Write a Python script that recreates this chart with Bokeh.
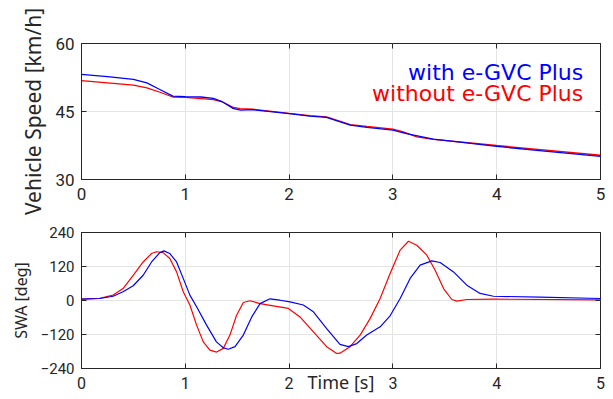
from bokeh.plotting import figure
from bokeh.layouts import column
from bokeh.models import LinearAxis, Label, FixedTicker, CustomJSTickFormatter
from bokeh.embed import file_html
from bokeh.resources import INLINE

# ---- data ----
t_spd_with = [0, 0.25, 0.5, 0.63, 0.75, 0.88, 1.0, 1.15, 1.27, 1.36, 1.46, 1.53, 1.65, 2.0, 2.2,
              2.36, 2.59, 2.75, 3.0, 3.13, 3.39, 3.71, 4.0, 4.36, 5.0]
spd_with = [53.2, 52.7, 52.1, 51.3, 49.9, 48.4, 48.3, 48.2, 47.9, 47.1, 45.7, 45.3, 45.4, 44.55, 44.0,
            43.7, 42.0, 41.5, 40.9, 40.1, 38.9, 38.1, 37.3, 36.5, 35.1]
t_spd_without = [0, 0.25, 0.5, 0.63, 0.75, 0.88, 1.0, 1.27, 1.36, 1.46, 1.53, 1.65, 2.0, 2.2,
                 2.36, 2.59, 2.75, 3.0, 3.1, 3.23, 3.39, 4.0, 5.0]
spd_without = [51.8, 51.3, 50.8, 50.2, 49.3, 48.2, 48.1, 47.6, 47.1, 45.9, 45.65, 45.5, 44.6, 44.1,
               43.8, 42.1, 41.7, 41.1, 40.5, 39.4, 38.85, 37.5, 35.35]

t_swa_with = [0, 0.176, 0.305, 0.40, 0.498, 0.594, 0.675, 0.755, 0.794, 0.85, 0.916, 0.98, 1.044,
              1.109, 1.205, 1.30, 1.366, 1.414, 1.479, 1.559, 1.64, 1.72, 1.816, 1.912, 2.009,
              2.137, 2.234, 2.362, 2.49, 2.571, 2.652, 2.748, 2.877, 2.973, 3.07, 3.166, 3.262,
              3.375, 3.455, 3.584, 3.712, 3.84, 3.969, 4.419, 5.0]
swa_with = [4.7, 7, 15, 31, 52, 89, 136, 169, 175, 166, 136, 78, 19,
            -22, -87, -146, -167, -172, -163, -122, -58, -11, 6, 1, -5,
            -16, -40, -99, -155, -163, -152, -122, -93, -54, 7, 78, 125,
            140, 134, 101, 54, 25, 15, 12, 7]
t_swa_without = [0, 0.176, 0.305, 0.40, 0.498, 0.594, 0.675, 0.723, 0.787, 0.851, 0.916, 0.98,
                 1.044, 1.109, 1.173, 1.237, 1.301, 1.366, 1.43, 1.494, 1.559, 1.623, 1.72, 1.848,
                 1.993, 2.105, 2.234, 2.362, 2.459, 2.49, 2.587, 2.684, 2.78, 2.877, 2.973, 3.07,
                 3.15, 3.23, 3.327, 3.407, 3.488, 3.568, 3.616, 3.712, 3.969, 5.0]
swa_without = [4.7, 8, 19, 42, 89, 136, 166, 172, 169, 148, 101, 31,
               -16, -87, -146, -175, -182, -169, -122, -52, -7, -1, -11, -19,
               -28, -58, -111, -163, -187, -186, -163, -122, -64, 7, 95, 178,
               209, 195, 160, 107, 42, 3.5, -2, 3.5, 4.7, 2.4]

x_ticks = [0, 1, 2, 3, 4, 5]
spd_ticks = [30, 45, 60]
swa_ticks = [-240, -120, 0, 120, 240]
legend_labels = ["with e-GVC Plus", "without e-GVC Plus"]
axis_labels = ["Vehicle Speed [km/h]", "SWA [deg]", "Time [s]"]

BLUE = "#0000ff"
RED = "#ff0000"
INK = "#262626"
GRID = "#e4e4e4"
TICK_FONT = "Roboto"
blank = CustomJSTickFormatter(code="return ''")


def style(p, yticks, xtick_size, ytick_size, overrides=None):
    p.outline_line_color = INK
    p.outline_line_width = 1
    p.xgrid.ticker = FixedTicker(ticks=x_ticks)
    p.ygrid.ticker = FixedTicker(ticks=yticks)
    p.xgrid.grid_line_color = GRID
    p.ygrid.grid_line_color = GRID
    xa = p.below[0]
    ya = p.left[0]
    for ax, size in ((xa, xtick_size), (ya, ytick_size)):
        ax.major_tick_in = 5
        ax.major_tick_out = 0
        ax.minor_tick_line_color = None
        ax.axis_line_color = INK
        ax.major_tick_line_color = INK
        ax.major_label_text_color = INK
        ax.major_label_text_font = TICK_FONT
        ax.major_label_text_font_size = size
    xa.ticker = FixedTicker(ticks=x_ticks)
    ya.ticker = FixedTicker(ticks=yticks)
    if overrides:
        ya.major_label_overrides = overrides
    xa.major_label_standoff = 8
    ya.major_label_standoff = 7
    # mirrored ticks on top and right (no labels)
    top = LinearAxis(ticker=FixedTicker(ticks=x_ticks), formatter=blank, major_tick_in=5,
                     major_tick_out=0, minor_tick_line_color=None, axis_line_color=None,
                     major_tick_line_color=INK, major_label_standoff=0)
    right = LinearAxis(ticker=FixedTicker(ticks=yticks), formatter=blank, major_tick_in=5,
                       major_tick_out=0, minor_tick_line_color=None, axis_line_color=None,
                       major_tick_line_color=INK, major_label_standoff=0)
    p.add_layout(top, "above")
    p.add_layout(right, "right")
    return xa, ya


p1 = figure(width=613, height=216, x_range=(0, 5), y_range=(30, 60),
            output_backend="svg", toolbar_location=None,
            min_border_left=81, min_border_right=13, min_border_top=43, min_border_bottom=37)
xa1, ya1 = style(p1, spd_ticks, "17px", "17px")
ya1.axis_label = axis_labels[0]
ya1.axis_label_text_font = "Noto Sans"
ya1.axis_label_text_font_size = "21px"
ya1.axis_label_text_font_style = "normal"
ya1.axis_label_text_color = INK
ya1.axis_label_standoff = 5
p1.line(t_spd_without, spd_without, line_color=RED, line_width=1.3)
p1.line(t_spd_with, spd_with, line_color=BLUE, line_width=1.3)
p1.add_layout(Label(x=4.834, y=53.6, text=legend_labels[0], text_align="right",
                    text_baseline="alphabetic", text_color=BLUE, text_font="DejaVu Sans",
                    text_font_size="22px"))
p1.add_layout(Label(x=4.834, y=48.9, text=legend_labels[1], text_align="right",
                    text_baseline="alphabetic", text_color=RED, text_font="DejaVu Sans",
                    text_font_size="22px"))

minus_over = {v: (("\u2212" + str(abs(v))) if v < 0 else str(v)) for v in swa_ticks}
p2 = figure(width=613, height=183, x_range=(0, 5), y_range=(-240, 240),
            output_backend="svg", toolbar_location=None,
            min_border_left=81, min_border_right=13, min_border_top=16, min_border_bottom=31)
xa2, ya2 = style(p2, swa_ticks, "16px", "15px", minus_over)
ya2.axis_label = axis_labels[1]
ya2.axis_label_text_font = "Noto Sans"
ya2.axis_label_text_font_size = "16px"
ya2.axis_label_text_font_style = "normal"
ya2.axis_label_text_color = INK
ya2.axis_label_standoff = 6
xa2.axis_label = axis_labels[2]
xa2.axis_label_text_font = "Noto Sans"
xa2.axis_label_text_font_size = "18px"
xa2.axis_label_text_font_style = "normal"
xa2.axis_label_text_color = INK
xa2.axis_label_standoff = -22
p2.line(t_swa_without, swa_without, line_color=RED, line_width=1.2)
p2.line(t_swa_with, swa_with, line_color=BLUE, line_width=1.2)

layout = column(p1, p2, spacing=0)
open("out.html", "w").write(file_html(layout, INLINE))
